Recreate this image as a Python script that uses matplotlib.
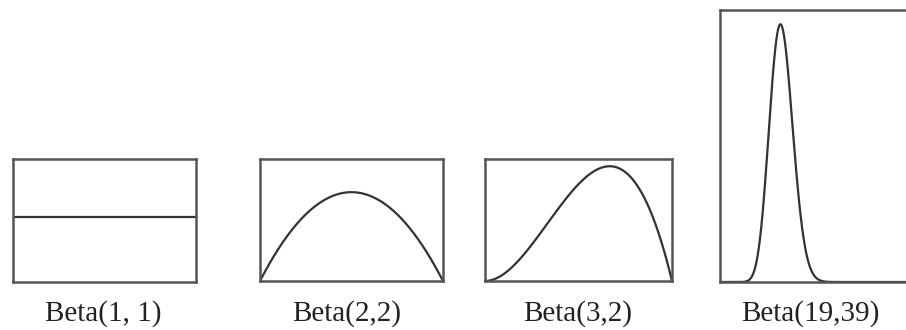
import math
import numpy as np
import matplotlib
matplotlib.use("Agg")
import matplotlib.pyplot as plt

# Beta distribution parameters shown in each panel
alphas = [1, 2, 3, 19]
betas = [1, 2, 2, 39]
labels = ["Beta(1, 1)", "Beta(2,2)", "Beta(3,2)", "Beta(19,39)"]
y_tops = [1.89, 2.06, 1.89, 6.83]

# panel boxes in pixels: left, top, right, bottom
boxes = [(13, 159, 196, 282),
         (260, 159, 443, 281),
         (485, 159, 672, 281),
         (720, 10, 908, 282)]
label_x = [103, 347, 578, 810]

W, H = 906, 330
fig = plt.figure(figsize=(W / 100, H / 100), dpi=100)
fig.patch.set_facecolor("white")


def beta_pdf(x, a, b):
    norm = math.gamma(a + b) / (math.gamma(a) * math.gamma(b))
    return norm * x ** (a - 1) * (1 - x) ** (b - 1)


edge = "#555555"
for a, b, lab, top, (l, t, r, btm), lx in zip(alphas, betas, labels, y_tops,
                                              boxes, label_x):
    ax = fig.add_axes([l / W, (H - btm) / H, (r - l) / W, (btm - t) / H])
    x = np.linspace(0, 1, 600)
    ax.plot(x, beta_pdf(x, a, b), color="#333333", lw=1.6, solid_capstyle="round")
    ax.set_xlim(0, 1)
    ax.set_ylim(0, top)
    ax.set_xticks([])
    ax.set_yticks([])
    for sp in ax.spines.values():
        sp.set_linewidth(1.8)
        sp.set_color(edge)
    fig.text(lx / W, 1 - 314 / H, lab, ha="center", va="center", fontsize=21,
             family="Liberation Serif", color="#222222")

fig.savefig("out.png", dpi=100, facecolor="white")
